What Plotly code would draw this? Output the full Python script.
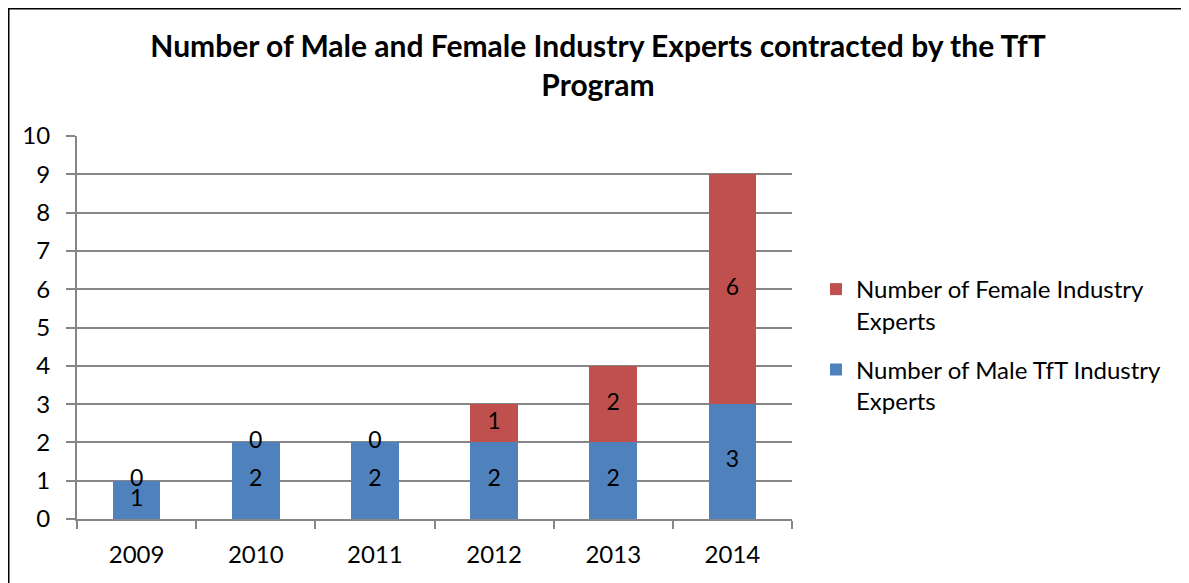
import plotly.graph_objects as go

years = ["2009", "2010", "2011", "2012", "2013", "2014"]
male = [1, 2, 2, 2, 2, 3]
female = [0, 0, 0, 1, 2, 6]
male_name = "Number of Male TfT Industry<br>Experts"
female_name = "Number of Female Industry<br>Experts"
title_text = "<b>Number of Male and Female Industry Experts contracted by the TfT<br>Program</b>"

BLUE = "#4F81BD"
RED = "#C0504D"
GRID = "#868686"
FONT = "Lato"

fig = go.Figure()
fig.add_trace(go.Bar(x=years, y=male, name=male_name, marker_color=BLUE, legendgroup="m",
                     legendrank=2, marker_line_width=0, width=0.4, hoverinfo="y"))
fig.add_trace(go.Bar(x=years, y=female, name=female_name, marker_color=RED, legendgroup="f",
                     legendrank=1, marker_line_width=0, width=0.4, hoverinfo="y"))

# data labels centred in each segment
fig.add_trace(go.Scatter(x=years, y=[m / 2 for m in male], mode="text",
                         text=[str(v) for v in male], textposition="middle center",
                         textfont=dict(family=FONT, size=23, color="black"),
                         showlegend=False, hoverinfo="skip"))
fig.add_trace(go.Scatter(x=years, y=[m + f / 2 for m, f in zip(male, female)], mode="text",
                         text=[str(v) for v in female], textposition="middle center",
                         textfont=dict(family=FONT, size=23, color="black"),
                         showlegend=False, hoverinfo="skip"))

# page body adds an 8px offset; figure coordinates = screen - 8
OFF = 8
W, H = 1189, 583
L, R, T, B = 77 - OFF, 792 - OFF, 136 - OFF, 519 - OFF
pw, ph = R - L, B - T

fig.update_layout(
    width=W, height=H,
    barmode="stack",
    plot_bgcolor="white", paper_bgcolor="white",
    margin=dict(l=L, r=W - R, t=T, b=H - B, pad=0),
    font=dict(family=FONT, size=23, color="black"),
    title=dict(text=title_text, x=(598 - OFF) / W, xanchor="center",
               y=1 - 49 / H, yanchor="top",
               font=dict(family=FONT, size=30, color="black")),
    legend=dict(x=(816 - OFF - L) / pw, xanchor="left", y=(B - (267 - OFF)) / ph, yanchor="top",
                traceorder="grouped", valign="top", itemsizing="constant",
                font=dict(family=FONT, size=24, color="black"),
                tracegroupgap=15, bgcolor="rgba(0,0,0,0)"),
    xaxis=dict(type="category", showgrid=False, showline=True, linecolor=GRID, linewidth=2,
               ticks="outside", ticklen=8, tickcolor=GRID, tickwidth=2,
               tickson="boundaries", tickfont=dict(size=24), ticklabelstandoff=13),
    yaxis=dict(range=[0, 10], dtick=1, showgrid=True, gridcolor=GRID, gridwidth=2,
               showline=True, linecolor=GRID, linewidth=2, zeroline=False,
               ticks="outside", ticklen=9, tickcolor=GRID, tickwidth=2,
               tickfont=dict(size=24), ticklabelstandoff=11),
    shapes=[dict(type="rect", xref="paper", yref="paper",
                 x0=(0.5 - L) / pw, x1=(1300 - L) / pw,
                 y0=(B - 700) / ph, y1=(B - 0.5) / ph,
                 line=dict(color="black", width=2), fillcolor="rgba(0,0,0,0)", layer="below")],
)

fig.write_html("out.html")
